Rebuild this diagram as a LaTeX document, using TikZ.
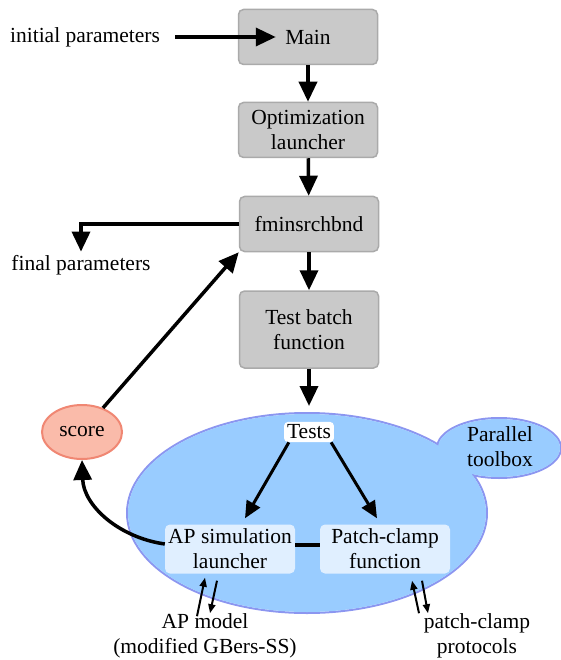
\documentclass[tikz,border=0pt]{standalone}
\usepackage{fontspec}
\setmainfont{Liberation Serif}
\usetikzlibrary{arrows.meta,positioning,shapes.geometric}

\definecolor{boxgray}{RGB}{201,201,201}
\definecolor{boxline}{RGB}{170,170,170}
\definecolor{poolblue}{RGB}{153,204,255}
\definecolor{poolline}{RGB}{140,150,240}
\definecolor{taskblue}{RGB}{224,239,255}
\definecolor{scorefill}{RGB}{250,187,170}
\definecolor{scoreline}{RGB}{240,135,115}

\tikzset{
  stage/.style={draw=boxline, line width=1.5pt, fill=boxgray, rounded corners=5pt,
                minimum width=139pt, minimum height=55pt, align=center},
  task/.style={fill=taskblue, rounded corners=5pt, minimum width=130pt,
               minimum height=49pt, align=center, inner sep=1pt},
  flow/.style={line width=3.5pt, -{Triangle[length=20pt,width=18pt]}},
  io/.style={line width=2pt, -{Triangle[length=9pt,width=7pt]}},
}

\begin{document}
\begin{tikzpicture}[x=1pt, y=1pt, font=\fontsize{21.5}{25}\selectfont]
        \useasboundingbox (0,0) rectangle (560,-660);

        % main chain
        \node [stage] (main) at (308,-37) {Main};
        \node [stage] (launch) at (308,-130) {Optimization\\launcher};
        \node [stage] (fmin) at (309,-224) {fminsrchbnd};
        \node [stage, minimum height=77pt] (batch) at (309,-329.5) {Test batch\\function};

        \node (init) at (85,-37) {initial parameters};
        \node (final) at (81,-265) {final parameters};
        \coordinate (mainin) at ([xshift=38pt]main.west);

        \draw [flow] ([xshift=12pt]init.east) -- (mainin);
        \draw [flow] (main) -- (launch);
        \draw [flow] (launch) -- (fmin);
        \draw [flow] (fmin) -- (batch);
        \draw [flow] (fmin.west) -| (final.north);

        % parallel pool: two blobs, outlines first, then fill over the seam
        \draw [poolline, line width=2pt] (307,-513) ellipse (180 and 100);
        \draw [poolline, line width=2pt] (499,-448) ellipse (62 and 30);
        \fill [poolblue] (307,-513) ellipse (179 and 99);
        \fill [poolblue] (499,-448) ellipse (61 and 29);
        \node (toolbox) at (500,-447) [align=center] {Parallel\\toolbox};

        \draw [flow] (batch) -- (309,-406);

        \node [fill=white, rounded corners=4pt, inner sep=3pt] (tests) at (309,-432) {Tests};
        \node [task] (ap) at (230,-549) {AP simulation\\launcher};
        \node [task] (pc) at (385,-549) {Patch-clamp\\function};

        \draw [flow, line width=3pt, -{Triangle[length=17pt,width=15pt]}]
            ([xshift=5pt]tests.south west) -- ([xshift=15pt,yshift=6pt]ap.north);
        \draw [flow, line width=3pt, -{Triangle[length=17pt,width=15pt]}]
            ([xshift=-3pt]tests.south east) -- ([xshift=-8pt,yshift=6pt]pc.north);
        \draw [line width=3.5pt] ([yshift=4pt]ap.east) -- ([yshift=4pt]pc.west);

        % score feeds back to the optimizer
        \node [ellipse, draw=scoreline, line width=2pt, fill=scorefill,
               minimum width=80pt, minimum height=54pt, inner sep=0pt] (score) at (82,-432) {score};
        \draw [flow] (score) -- (fmin.south west);
        \draw [flow] ([yshift=5pt]ap.west) to[out=172, in=-88] (score.south);

        % model and protocol files
        \node [align=center] (model) at (205,-636) {AP model\\(modified GBers-SS)};
        \node [align=center] (proto) at (477,-636) {patch-clamp\\protocols};

        \draw [io] ([xshift=-8pt,yshift=-6pt]model.north) -- ([xshift=-25pt,yshift=-4pt]ap.south);
        \draw [io] ([xshift=-13pt,yshift=-7pt]ap.south) -- ([xshift=5pt,yshift=-3pt]model.north);
        \draw [io] ([xshift=-58pt,yshift=-3pt]proto.north) -- ([xshift=27pt,yshift=-7pt]pc.south);
        \draw [io] ([xshift=37pt,yshift=-7pt]pc.south) -- ([xshift=-49pt,yshift=-3pt]proto.north);
\end{tikzpicture}
\end{document}
